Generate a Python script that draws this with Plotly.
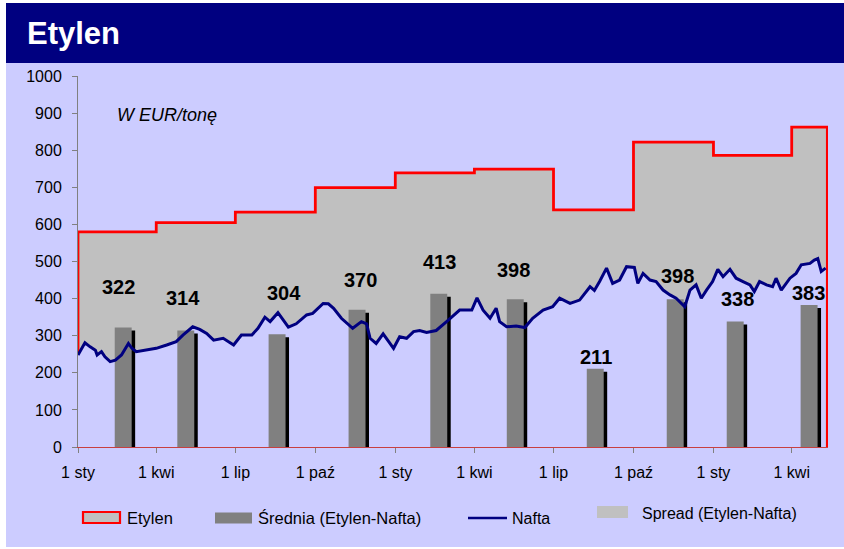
import pandas as pd
import plotly.graph_objects as go

# ---------------- data ----------------
START_DATE = "2003-01-01"
END_DATE = "2005-05-12"

ETYLEN_DATES = ["2003-01-01", "2003-04-01", "2003-07-01", "2003-10-01",
                "2004-01-01", "2004-04-01", "2004-07-01", "2004-10-01",
                "2005-01-01", "2005-04-01"]
ETYLEN_VALUES = [580, 605, 633, 699, 739, 749, 639, 822, 786, 862]

AVG_DATES = ["2003-02-22", "2003-05-05", "2003-08-18", "2003-11-18",
             "2004-02-20", "2004-05-18", "2004-08-18", "2004-11-18",
             "2005-01-26", "2005-04-21"]
AVG_VALUES = [322, 314, 304, 370, 413, 398, 211, 398, 338, 383]

# days since START_DATE
NAFTA_DAY = [0, 8, 14, 20, 22, 27, 31, 37, 43, 50, 58, 62, 67, 79, 90, 102, 113,
             121, 132, 140, 148, 156, 167, 179, 188, 200, 207, 215, 221, 230,
             242, 251, 263, 270, 282, 288, 294, 303, 316, 326, 332, 336, 343,
             351, 363, 370, 378, 386, 393, 401, 412, 424, 439, 453, 459, 466,
             474, 481, 485, 493, 504, 514, 523, 535, 546, 554, 566, 577, 589,
             594, 600, 608, 615, 623, 631, 640, 644, 650, 658, 665, 673, 681,
             688, 698, 704, 711, 717, 723, 730, 736, 742, 750, 757, 765, 773,
             778, 784, 792, 799, 803, 809, 819, 826, 832, 842, 847, 851, 855, 860]
NAFTA_VALUES = [248, 281, 270, 261, 248, 257, 243, 230, 234, 248, 279, 266, 257,
                261, 266, 275, 284, 302, 324, 317, 306, 288, 293, 275, 302, 302,
                320, 350, 338, 362, 323, 332, 356, 360, 387, 386, 374, 347, 320,
                338, 332, 293, 279, 305, 266, 297, 293, 311, 314, 309, 314, 338,
                369, 369, 402, 369, 347, 374, 338, 324, 326, 322, 347, 369, 378,
                401, 387, 396, 432, 422, 446, 482, 441, 450, 486, 484, 441, 468,
                450, 446, 423, 410, 401, 378, 423, 437, 401, 423, 446, 479, 459,
                479, 455, 446, 437, 419, 446, 437, 432, 455, 423, 455, 468, 491,
                495, 504, 508, 473, 482]

TICK_DATES = ["2003-01-01", "2003-04-01", "2003-07-01", "2003-10-01",
              "2004-01-01", "2004-04-01", "2004-07-01", "2004-10-01",
              "2005-01-01", "2005-04-01"]
TICK_LABELS = ["1 sty", "1 kwi", "1 lip", "1 paź", "1 sty", "1 kwi",
               "1 lip", "1 paź", "1 sty", "1 kwi"]

SERIES_NAMES = ["Etylen", "Średnia (Etylen-Nafta)", "Nafta", "Spread (Etylen-Nafta)"]

# ---------------- styling / layout ----------------
W, H = 844, 549
L, R, T, B = 78, 16, 76, 102
PW, PH = W - L - R, H - T - B

def px(x):
    return (x - L) / PW

def py(y):
    return (H - B - y) / PH

FONT = "Liberation Sans, Arial, sans-serif"
LAVENDER = "#CCCCFF"
NAVY = "#000080"
SPREAD_GREY = "#C0C0C0"
BAR_GREY = "#808080"
RED = "#FF0000"

LABEL_Y = [430, 402, 414, 449, 500, 478, 243, 461, 398, 416]
LABEL_XSHIFT = [-5, -3, 7, 3, 1, -2, 1, 2, 2, -1]
BAR_DAYS = 19.5
SHADOW_SHIFT_DAYS = 4
SHADOW_DROP = 8
DAY_MS = 86400000

start = pd.Timestamp(START_DATE)
nafta_dates = [start + pd.Timedelta(days=d) for d in NAFTA_DAY]

fig = go.Figure()

# Etylen area (red outline, grey fill) on base subplot
et_x = [ETYLEN_DATES[0]] + ETYLEN_DATES + [END_DATE, END_DATE]
et_y = [0] + ETYLEN_VALUES + [ETYLEN_VALUES[-1], 0]
fig.add_trace(go.Scatter(
    x=et_x, y=et_y, name=SERIES_NAMES[0], mode="lines",
    line=dict(color=RED, width=2.8, shape="hv"),
    fill="tozeroy", fillcolor=SPREAD_GREY, showlegend=False,
    hoverinfo="skip", xaxis="x", yaxis="y"))

# Nafta area (background coloured, hides part under naphtha)
fig.add_trace(go.Scatter(
    x=nafta_dates, y=NAFTA_VALUES, mode="lines", line=dict(width=0),
    fill="tozeroy", fillcolor=LAVENDER, showlegend=False,
    hoverinfo="skip", xaxis="x", yaxis="y"))

# Bars on overlay subplot
fig.add_trace(go.Bar(
    x=AVG_DATES, y=[v - SHADOW_DROP for v in AVG_VALUES],
    width=BAR_DAYS * DAY_MS,
    offset=(-BAR_DAYS / 2 + SHADOW_SHIFT_DAYS) * DAY_MS,
    marker=dict(color="#000000", line=dict(width=0)),
    showlegend=False, hoverinfo="skip", xaxis="x2", yaxis="y2"))
fig.add_trace(go.Bar(
    x=AVG_DATES, y=AVG_VALUES, name=SERIES_NAMES[1],
    width=BAR_DAYS * DAY_MS,
    marker=dict(color=BAR_GREY, line=dict(width=0)),
    showlegend=False, xaxis="x2", yaxis="y2"))

# Nafta line on top
fig.add_trace(go.Scatter(
    x=nafta_dates, y=NAFTA_VALUES, name=SERIES_NAMES[2], mode="lines",
    line=dict(color=NAVY, width=3), showlegend=False,
    xaxis="x2", yaxis="y2"))

xrange = [START_DATE, END_DATE + " 18:00"]

shapes = [
    dict(type="rect", xref="paper", yref="paper", x0=px(6), x1=px(844),
         y0=py(547), y1=py(63), fillcolor=LAVENDER, line=dict(width=0), layer="below"),
    dict(type="rect", xref="paper", yref="paper", x0=px(6), x1=px(844),
         y0=py(63), y1=py(3), fillcolor=NAVY, line=dict(width=0), layer="below"),
    # legend symbols
    dict(type="rect", xref="paper", yref="paper", x0=px(83), x1=px(120),
         y0=py(523), y1=py(512), fillcolor=SPREAD_GREY, line=dict(color=RED, width=2.2)),
    dict(type="rect", xref="paper", yref="paper", x0=px(215), x1=px(252),
         y0=py(523.5), y1=py(512.5), fillcolor=BAR_GREY, line=dict(width=0)),
    dict(type="line", xref="paper", yref="paper", x0=px(468), x1=px(507),
         y0=py(518), y1=py(518), line=dict(color=NAVY, width=2.6)),
    dict(type="rect", xref="paper", yref="paper", x0=px(597), x1=px(628),
         y0=py(518), y1=py(506), fillcolor=SPREAD_GREY, line=dict(width=0)),
]

annotations = []
legend_text_pos = [(125, 518), (256, 518), (510, 518), (640, 513)]
legend_sizes = [16.5, 16.5, 16, 16]
for name, (lx, ly), fs in zip(SERIES_NAMES, legend_text_pos, legend_sizes):
    annotations.append(dict(xref="paper", yref="paper", x=px(lx), y=py(ly),
                            text=name, showarrow=False, xanchor="left", yanchor="middle",
                            font=dict(family=FONT, size=fs, color="#000000")))

for d, v, ly, xs in zip(AVG_DATES, AVG_VALUES, LABEL_Y, LABEL_XSHIFT):
    annotations.append(dict(xref="x", yref="y", x=d, y=ly, text="<b>%d</b>" % v,
                            showarrow=False, xshift=xs, xanchor="center", yanchor="middle",
                            font=dict(family=FONT, size=20, color="#000000")))

annotations.append(dict(xref="paper", yref="paper", x=px(115), y=py(115),
                        text="<i>W EUR/tonę</i>", showarrow=False,
                        xanchor="left", yanchor="middle",
                        font=dict(family=FONT, size=18, color="#000000")))

fig.update_layout(
    width=W, height=H,
    margin=dict(l=L, r=R, t=T, b=B, pad=0),
    paper_bgcolor="#FFFFFF", plot_bgcolor="rgba(0,0,0,0)",
    barmode="overlay", showlegend=False,
    title=dict(text="<b>Etylen</b>", xref="container", yref="container",
               x=27 / W, y=1 - 33 / H, xanchor="left", yanchor="middle",
               font=dict(family=FONT, size=31, color="#FFFFFF")),
    xaxis=dict(type="date", range=xrange, tickvals=TICK_DATES, ticktext=TICK_LABELS,
               ticks="outside", ticklen=5, tickcolor="#808080", showgrid=False,
               zeroline=False, showline=True, linecolor="#C84040", linewidth=1,
               ticklabelstandoff=6,
               tickfont=dict(family=FONT, size=16, color="#000000")),
    yaxis=dict(range=[0, 1000], dtick=100, ticks="outside", ticklen=5,
               tickcolor="#808080", showgrid=False, zeroline=False,
               showline=True, linecolor="#808080", linewidth=1,
               ticklabelstandoff=7,
               tickfont=dict(family=FONT, size=16, color="#000000")),
    xaxis2=dict(type="date", range=xrange, overlaying="x", anchor="y2", visible=False),
    yaxis2=dict(range=[0, 1000], overlaying="y", anchor="x2", visible=False),
    shapes=shapes,
    annotations=annotations,
)

fig.write_html("out.html", config={"displayModeBar": False},
               post_script="document.body.style.margin='0px';")
